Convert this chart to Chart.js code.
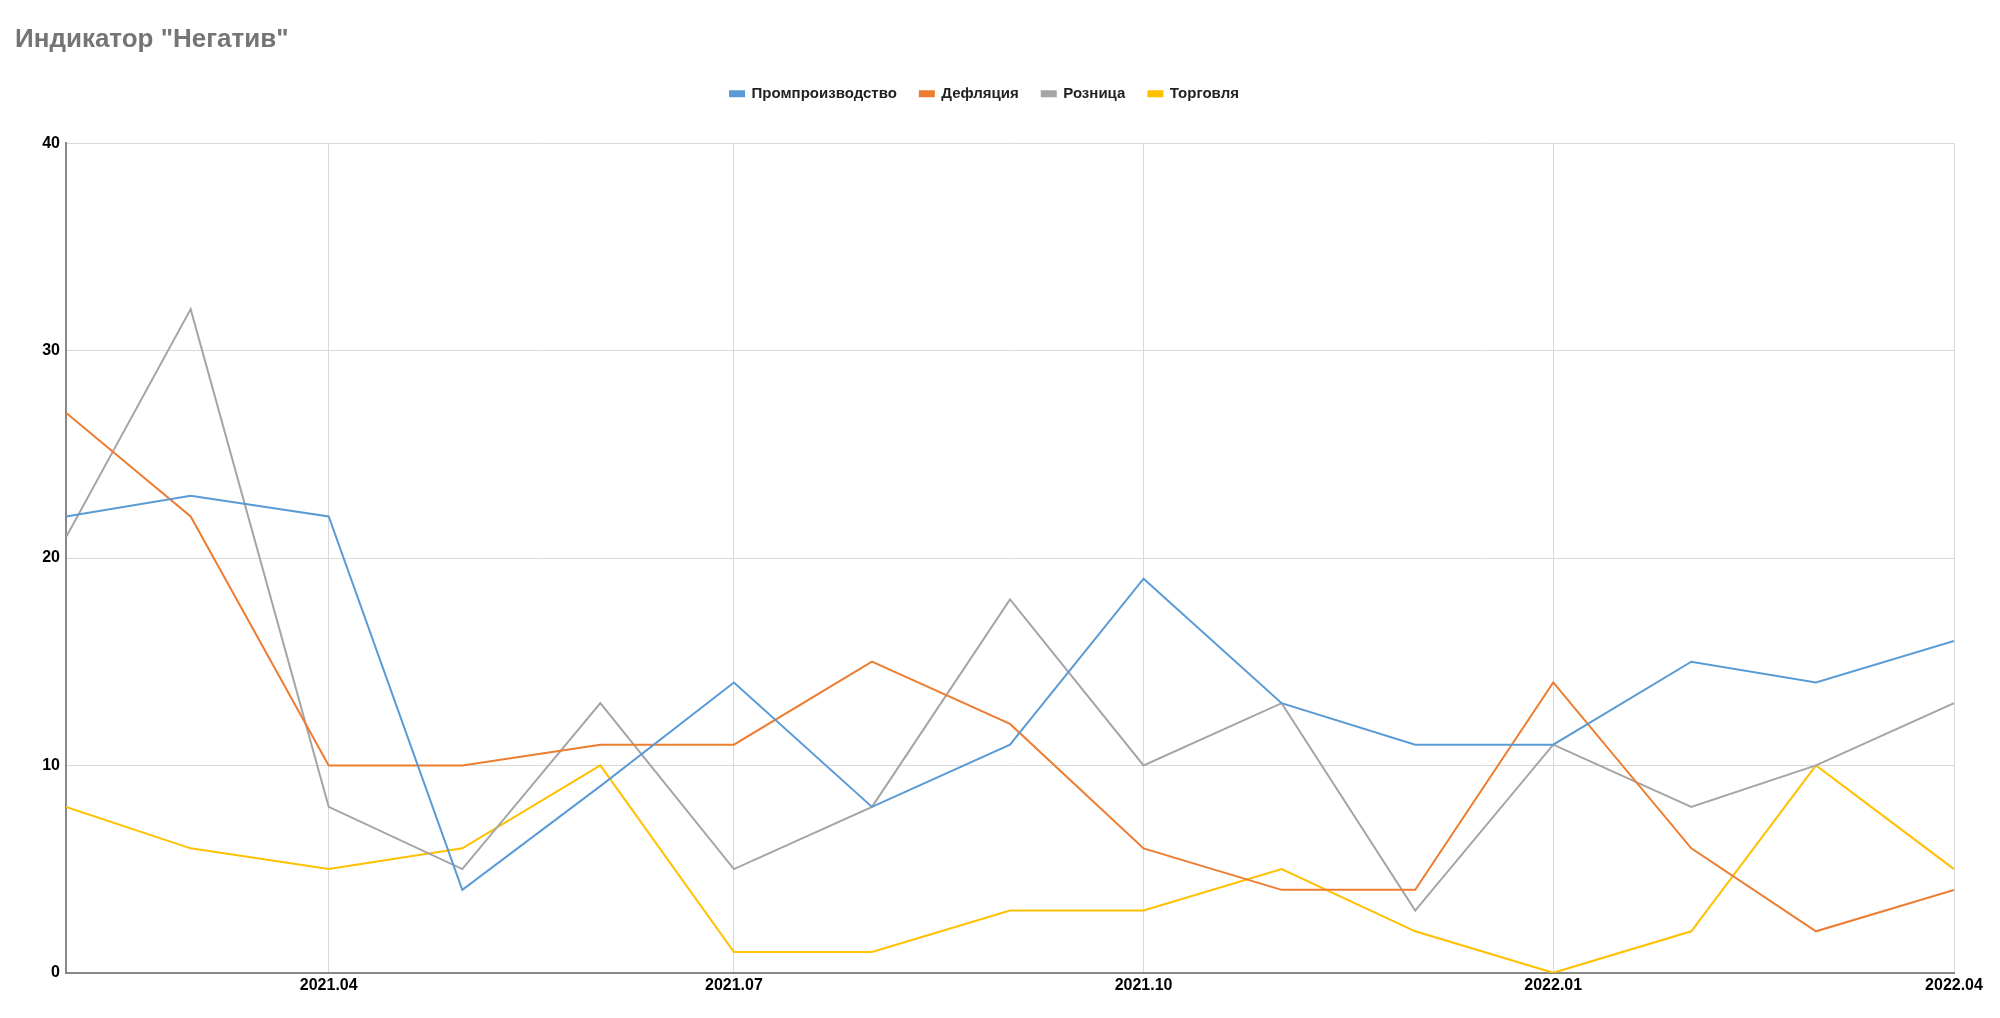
<!DOCTYPE html>
<html>
<head>
<meta charset="utf-8">
<script src="https://cdn.jsdelivr.net/npm/chart.js@4/dist/chart.umd.min.js"></script>
<style>
  html, body { margin: 0; padding: 0; background: #fff; }
  #wrap { width: 2000px; height: 1018px; }
</style>
</head>
<body>
<div id="wrap"><canvas id="chart"></canvas></div>
<script>
// Data
const months = ['2021.02', '2021.03', '2021.04', '2021.05', '2021.06', '2021.07', '2021.08',
    '2021.09', '2021.10', '2021.11', '2021.12', '2022.01', '2022.02', '2022.03', '2022.04'];
const tickMonths = ['2021.04', '2021.07', '2021.10', '2022.01', '2022.04'];
const yTicks = [0, 10, 20, 30, 40];

const promproizvodstvo = [22, 23, 22, 4, 9, 14, 8, 11, 19, 13, 11, 11, 15, 14, 16];
const deflyatsiya = [27, 22, 10, 10, 11, 11, 15, 12, 6, 4, 4, 14, 6, 2, 4];
const roznitsa = [21, 32, 8, 5, 13, 5, 8, 18, 10, 13, 3, 11, 8, 10, 13];
const torgovlya = [8, 6, 5, 6, 10, 1, 1, 3, 3, 5, 2, 0, 2, 10, 5];

// months -> days since first month (time axis spacing)
function dayOf(label) {
    const [y, m] = label.split('.').map(Number);
    const [y0, m0] = months[0].split('.').map(Number);
    return (Date.UTC(y, m - 1, 1) - Date.UTC(y0, m0 - 1, 1)) / 86400000;
}
const labelByDay = {};
months.forEach(m => { labelByDay[dayOf(m)] = m; });

function series(label, values, color) {
    return {
        label: label,
        data: values.map((v, i) => ({ x: dayOf(months[i]), y: v })),
        borderColor: color,
        backgroundColor: color,
        borderWidth: 2,
        pointRadius: 0,
        tension: 0
    };
}

// extra space under the legend
const legendGap = {
    id: 'legendGap',
    beforeInit(chart) {
        const fit = chart.legend.fit;
        chart.legend.fit = function () {
            fit.call(this);
            this.height += 32;
        };
    }
};

Chart.defaults.font.family = '"Liberation Sans", Arial, sans-serif';
Chart.defaults.color = '#000';

new Chart(document.getElementById('chart'), {
    type: 'line',
    data: {
        datasets: [
            series('Промпроизводство', promproizvodstvo, '#5B9BD5'),
            series('Дефляция', deflyatsiya, '#ED7D31'),
            series('Розница', roznitsa, '#A5A5A5'),
            series('Торговля', torgovlya, '#FFC000')
        ]
    },
    plugins: [legendGap],
    options: {
        responsive: true,
        maintainAspectRatio: false,
        animation: false,
        layout: { padding: { left: 15, right: 46, top: 14, bottom: 20 } },
        plugins: {
            title: {
                display: true,
                text: 'Индикатор "Негатив"',
                align: 'start',
                color: '#757575',
                font: { size: 26, weight: 'bold' },
                padding: { top: 10, bottom: 8 }
            },
            legend: {
                labels: {
                    boxWidth: 14,
                    boxHeight: 5,
                    padding: 23,
                    color: '#222',
                    font: { size: 15, weight: 'bold' }
                }
            },
            tooltip: { enabled: false }
        },
        scales: {
            x: {
                type: 'linear',
                min: dayOf(months[0]),
                max: dayOf(months[months.length - 1]),
                afterBuildTicks: axis => {
                    axis.ticks = tickMonths.map(m => ({ value: dayOf(m) }));
                },
                ticks: {
                    callback: v => labelByDay[v] || '',
                    maxRotation: 0,
                    padding: 3,
                    font: { size: 16, weight: 'bold' }
                },
                grid: { color: '#d9d9d9', lineWidth: 1, drawTicks: false },
                border: { color: '#888', width: 2 }
            },
            y: {
                min: 0,
                max: 40,
                afterBuildTicks: axis => {
                    axis.ticks = yTicks.map(v => ({ value: v }));
                },
                afterFit: axis => { axis.width = 51; },
                ticks: {
                    padding: 6,
                    font: { size: 16, weight: 'bold' }
                },
                grid: { color: '#d9d9d9', lineWidth: 1, drawTicks: false },
                border: { color: '#888', width: 2 }
            }
        }
    }
});
</script>
</body>
</html>
